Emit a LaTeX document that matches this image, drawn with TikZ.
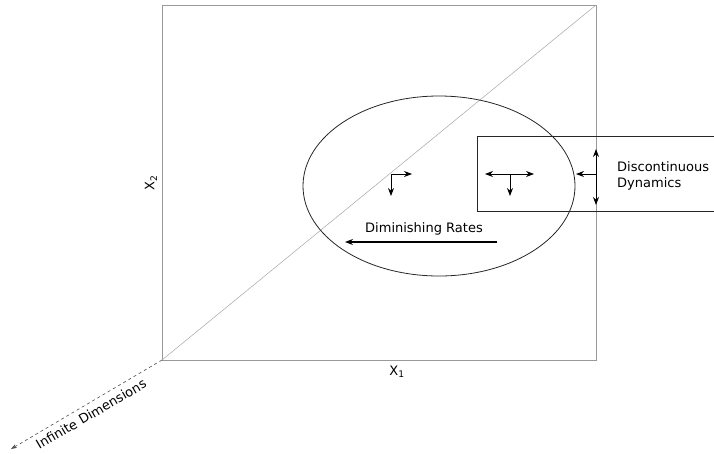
\documentclass[tikz,border=0pt]{standalone}
\usepackage{fontspec}
\setmainfont{DejaVu Sans}
\usetikzlibrary{positioning, arrows.meta, calc}

\begin{document}
\begin{tikzpicture}[
            x=1pt, y=-1pt,
            frame/.style={draw=gray!80, line width=0.7pt},
            thin line/.style={draw=gray!70, line width=0.5pt},
            arrow/.style={-{Stealth[length=8pt, width=6pt]}, line width=0.8pt},
            lbl/.style={font=\fontsize{13}{16}\selectfont, inner sep=1pt},
        ]
            \useasboundingbox (0,0) rectangle (714,453);

            % State space with its diagonal
            \coordinate (origin) at (162,360);
            \coordinate (corner) at (596,5);
            \draw[frame] (origin) rectangle (corner);
            \draw[thin line] (origin) -- (corner);
            \node[lbl] (xone) at (397,372) {X\textsubscript{1}};
            \node[lbl, rotate=90] (xtwo) at (151,183) {X\textsubscript{2}};

            % Region of diminishing rates
            \draw[black!85, line width=0.8pt] (439,186) ellipse [x radius=136, y radius=90];

            % Region of discontinuous dynamics
            \draw[black!85, line width=0.7pt] (714,136) -- (477,136) -- (477,211) -- (714,211);
            \node[lbl, anchor=west, align=left] (disc) at (616,176) {Discontinuous\\Dynamics};

            % Small flow arrows
            \coordinate (flowA) at (391,174);
            \draw[arrow] (flowA) -- (412,174);
            \draw[arrow] (flowA) -- (391,196);

            \coordinate (flowB) at (510,174);
            \draw[arrow] (flowB) -- (485,174);
            \draw[arrow] (flowB) -- (534,174);
            \draw[arrow] (flowB) -- (510,196);

            \coordinate (jump) at (596,174);
            \draw[arrow] (jump) -- (596,149);
            \draw[arrow] (jump) -- (596,205);
            \draw[arrow] (jump) -- (576,174);

            % Diminishing rates
            \coordinate (rateStart) at (497,242);
            \coordinate (rateEnd) at (345,242);
            \draw[arrow, line width=1.1pt] (rateStart) -- (rateEnd);
            \node[lbl] (rates) at (424,229) {Diminishing Rates};

            % Infinite dimensions
            \coordinate (far) at (11,449);
            \draw[-{Stealth[length=6pt, width=4pt]}, dashed, black!70, line width=0.6pt] (origin) -- (far);
            \node[lbl, rotate=30.4] (infdim) at (91,414) {Infinite Dimensions};
        \end{tikzpicture}
\end{document}
